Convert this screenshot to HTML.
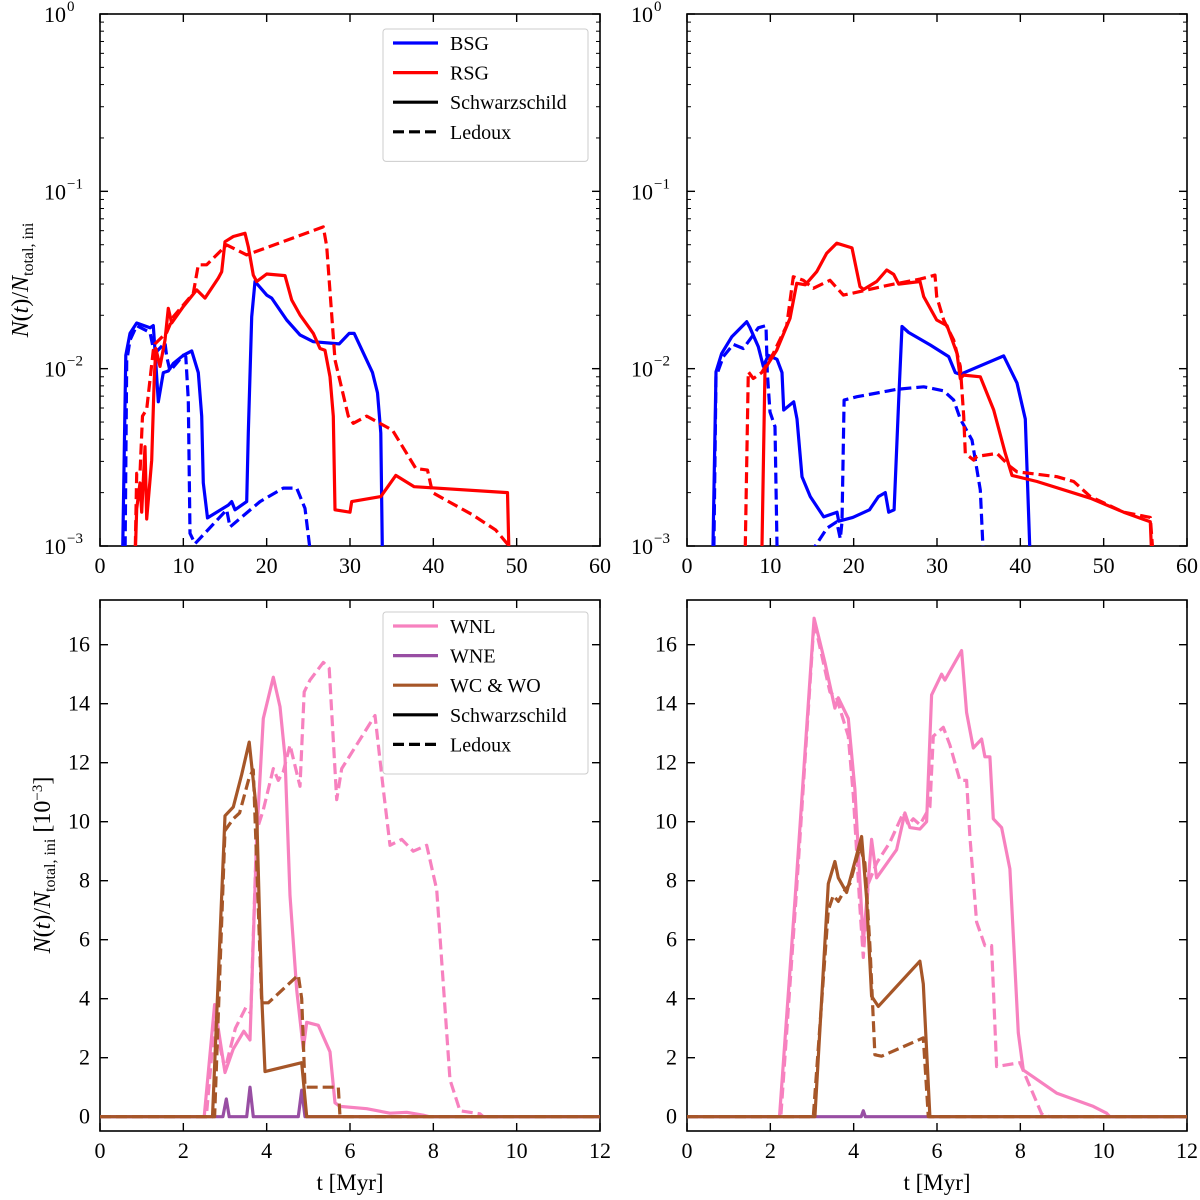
<!DOCTYPE html>
<html><head><meta charset="utf-8"><style>
html,body{margin:0;padding:0;background:#fff;}
svg{display:block;font-family:"Liberation Serif","DejaVu Serif",serif;}
</style></head><body>
<svg id="fig" width="1200" height="1200" viewBox="0 0 1200 1200" xmlns="http://www.w3.org/2000/svg"></svg>
<script>
// ===== Top-left (log) data =====
const tlBsgSolT=[2.7,3.1,3.6,4.4,6.0,6.4,6.6,7.0,7.6,8.2,8.8,10.0,11.0,11.8,12.2,12.4,12.9,15.4,15.8,16.2,17.6,17.8,18.2,18.6,20.0,20.6,22.4,24.0,25.6,28.7,29.9,30.5,32.7,33.3,33.7,33.9];
const tlBsgSolV=[0.0008,0.0119,0.0158,0.0181,0.017,0.0175,0.0127,0.0065,0.0095,0.0097,0.0107,0.0119,0.0126,0.0095,0.0054,0.00227,0.00144,0.0017,0.00178,0.0016,0.00178,0.00434,0.0196,0.031,0.026,0.025,0.0188,0.0155,0.0142,0.0138,0.0158,0.0158,0.0095,0.0073,0.00434,0.0008];
const tlBsgDashT=[3.0,3.2,3.6,4.4,6.0,6.4,6.8,7.8,8.0,8.4,10.0,10.3,10.6,10.8,11.4,15.2,15.6,19.2,22.0,23.6,24.6,25.4];
const tlBsgDashV=[0.0008,0.011,0.0145,0.0175,0.016,0.013,0.0125,0.014,0.0117,0.0097,0.0119,0.0117,0.00665,0.00118,0.00103,0.0016,0.00128,0.00178,0.00212,0.00212,0.00163,0.0008];
const tlRsgSolT=[4.2,4.4,4.8,5.0,5.4,5.6,6.2,6.5,6.7,7.2,7.8,8.2,8.6,10.0,11.6,12.6,14.2,14.6,15.0,16.0,17.4,17.8,18.4,18.8,20.0,22.2,23.0,24.0,25.6,26.4,27.0,27.6,28.0,28.2,30.0,30.2,33.7,35.5,37.7,48.9,49.1];
const tlRsgSolV=[0.0008,0.00162,0.00227,0.00155,0.00363,0.00142,0.00305,0.0086,0.013,0.0103,0.0145,0.0219,0.0181,0.0224,0.0278,0.025,0.0324,0.0352,0.052,0.0556,0.058,0.0487,0.0337,0.031,0.0342,0.0335,0.0244,0.0201,0.0158,0.013,0.0127,0.009,0.0054,0.0016,0.00155,0.00178,0.0019,0.0025,0.00216,0.002,0.0008];
const tlRsgDashT=[4.2,4.4,4.8,5.1,5.6,6.4,6.6,8.0,8.8,11.2,11.8,12.8,15.2,17.6,26.8,27.2,28.2,29.8,30.4,32.0,35.1,37.9,39.3,39.9,44.7,47.5,49.5];
const tlRsgDashV=[0.0008,0.00257,0.00257,0.0054,0.0059,0.0127,0.0138,0.016,0.0196,0.0266,0.0385,0.0385,0.0499,0.0438,0.063,0.049,0.0112,0.0054,0.00492,0.0054,0.0045,0.00274,0.00268,0.002,0.0015,0.00123,0.00095];
// ===== Top-right (log) data =====
const trBsgSolT=[3.08,3.48,4.16,5.36,7.16,7.56,8.56,9.16,9.76,10.8,11.4,11.6,12.8,13.2,13.8,14.8,16.4,18.0,18.2,19.9,21.9,22.97,23.8,24.2,24.85,25.4,25.8,26.6,29.2,31.4,32.2,32.8,38.0,39.6,40.6,41.2];
const trBsgSolV=[0.0008,0.0096,0.0122,0.0151,0.0184,0.017,0.0133,0.0103,0.0119,0.0113,0.0095,0.00585,0.0065,0.0052,0.00246,0.0019,0.00146,0.00155,0.00138,0.00145,0.0016,0.0019,0.002,0.00155,0.0016,0.00665,0.0173,0.016,0.0136,0.0117,0.0095,0.0093,0.0118,0.0083,0.0052,0.0008];
const trBsgDashT=[3.2,3.48,4.36,5.56,6.76,7.96,8.56,9.48,9.64,9.96,10.56,10.84];
const trBsgDashV=[0.0008,0.009,0.0117,0.0137,0.013,0.0155,0.017,0.0175,0.0095,0.0057,0.00471,0.0008];
const trBsgDash2T=[14.76,16.8,17.96,18.4,18.6,18.85,20.4,25.2,28.4,30.8,32.0,32.8,34.2,35.2,35.6];
const trBsgDash2V=[0.0009,0.00126,0.00137,0.0011,0.00137,0.00665,0.00695,0.00765,0.0079,0.0075,0.00665,0.0052,0.00396,0.00207,0.0008];
const trRsgSolT=[8.96,9.36,10.76,12.36,13.16,14.2,15.56,16.76,17.96,19.8,20.76,21.2,22.76,23.96,24.8,25.4,27.96,28.4,29.96,31.2,32.4,32.8,33.2,35.2,36.8,38.2,39.0,42.0,48.4,52.4,55.6,55.8];
const trRsgSolV=[0.0008,0.01,0.0127,0.0192,0.0303,0.0297,0.0352,0.0448,0.051,0.048,0.029,0.028,0.031,0.036,0.034,0.03,0.031,0.0255,0.0188,0.0175,0.0122,0.0088,0.0092,0.009,0.00585,0.00333,0.0025,0.00231,0.00186,0.00155,0.00137,0.0008];
const trRsgDashT=[6.96,7.36,7.96,8.96,10.36,11.96,12.76,13.96,15.16,17.16,18.76,20.4,24.4,27.96,29.76,29.96,30.8,32.0,32.8,33.2,33.4,34.4,34.8,37.2,38.8,39.6,44.4,46.4,48.4,52.4,55.6,56.0];
const trRsgDashV=[0.0008,0.0096,0.0088,0.0095,0.0122,0.0175,0.033,0.0315,0.0284,0.0315,0.026,0.027,0.0297,0.032,0.0337,0.0255,0.0188,0.0145,0.0103,0.0054,0.00333,0.00305,0.0032,0.00333,0.0028,0.00262,0.00246,0.00231,0.0019,0.00155,0.00145,0.0008];
// ===== Bottom-left (linear, 1e-3) data =====
const blWnlSolT=[0,2.5,2.75,3.0,3.2,3.45,3.6,3.76,3.92,4.16,4.32,4.44,4.56,4.72,4.88,4.96,5.24,5.52,5.64,5.76,6.4,6.96,7.36,7.76,7.9,12];
const blWnlSolV=[0,0,3.8,1.5,2.3,2.9,2.6,9.5,13.5,14.9,13.9,12.2,7.5,4.3,2.3,3.2,3.1,2.2,0.47,0.35,0.27,0.12,0.15,0.05,0,0];
const blWnlDashT=[0,2.55,2.75,3.0,3.25,3.5,3.62,3.76,3.92,4.16,4.28,4.4,4.56,4.8,4.9,5.04,5.36,5.5,5.68,5.8,6.6,6.8,6.96,7.24,7.52,7.84,8.08,8.4,8.64,9.12,9.2,12];
const blWnlDashV=[0,0,3.2,1.6,3.0,3.7,3.5,9.7,10.4,11.8,11.4,11.7,12.6,11.2,14.4,14.8,15.4,15.2,10.75,11.8,13.6,11.1,9.2,9.4,9.0,9.2,7.7,1.25,0.2,0.1,0,0];
const blWneSolT=[0,2.95,3.03,3.1,3.52,3.6,3.68,4.76,4.84,4.92,12];
const blWneSolV=[0,0,0.6,0,0,1.0,0,0,0.9,0,0];
const blWcSolT=[0,2.7,3.0,3.2,3.4,3.58,3.76,3.88,3.96,4.84,4.96,12];
const blWcSolV=[0,0,10.2,10.5,11.6,12.7,10.3,4.1,1.53,1.83,0,0];
const blWcDashT=[0,2.75,3.0,3.2,3.35,3.58,3.68,3.88,4.04,4.76,4.84,4.92,5.72,5.76,12];
const blWcDashV=[0,0,9.7,10.1,10.3,11.5,11.76,3.86,3.86,4.8,4.0,1.0,1.0,0,0];
// ===== Bottom-right (linear, 1e-3) data =====
const brWnlSolT=[0,2.22,2.6,3.05,3.31,3.55,3.63,3.87,4.03,4.23,4.43,4.55,5.03,5.23,5.35,5.59,5.75,5.87,6.11,6.19,6.59,6.71,6.87,7.07,7.15,7.27,7.35,7.55,7.75,7.95,8.07,8.31,8.87,9.75,10.07,10.15,12];
const brWnlSolV=[0,0,7.5,16.9,15.4,13.85,14.2,13.5,11.1,5.9,9.4,8.1,9.05,10.3,9.8,9.75,10.0,14.3,15.0,14.8,15.8,13.7,12.5,12.8,12.2,12.2,10.1,9.8,8.4,2.84,1.58,1.35,0.8,0.35,0.12,0,0];
const brWnlDashT=[0,2.25,2.62,3.05,3.43,3.59,3.87,3.99,4.15,4.23,4.35,4.55,4.87,5.19,5.31,5.43,5.59,5.83,5.91,6.15,6.31,6.55,6.71,6.79,6.95,7.15,7.31,7.43,7.99,8.23,8.51,8.7,12];
const brWnlDashV=[0,0,7.5,16.8,14.4,14.2,12.9,10.9,7.1,5.4,7.9,8.6,9.3,10.3,9.9,10.1,9.9,10.5,12.9,13.2,12.6,11.4,11.4,9.5,6.6,5.8,5.8,1.7,1.83,1.03,0.1,0,0];
const brWneSolT=[0,4.18,4.23,4.28,12];
const brWneSolV=[0,0,0.2,0,0];
const brWcSolT=[0,3.07,3.39,3.55,3.63,3.83,4.19,4.31,4.43,4.59,5.59,5.67,5.83,12];
const brWcSolV=[0,0,7.9,8.65,8.1,7.6,9.5,7.4,4.08,3.74,5.27,4.5,0,0];
const brWcDashT=[0,3.03,3.39,3.51,3.63,3.75,3.91,4.15,4.27,4.39,4.51,4.67,5.67,5.79,12];
const brWcDashV=[0,0,7.0,7.5,7.3,7.6,7.9,9.16,8.6,5.8,2.1,2.05,2.67,0,0];
// ===== Ticks =====
const topXTicks=[0,10,20,30,40,50,60];
const topYExps=[0,-1,-2,-3];
const botXTicks=[0,2,4,6,8,10,12];
const botYTicks=[0,2,4,6,8,10,12,14,16];

const NS="http://www.w3.org/2000/svg";
const svg=document.getElementById('fig');
function el(tag,attrs,parent){const e=document.createElementNS(NS,tag);for(const k in attrs)e.setAttribute(k,attrs[k]);(parent||svg).appendChild(e);return e;}

const C={blue:'#0000ff',red:'#ff0000',pink:'#f781bf',purple:'#984ea3',brown:'#a65628'};
const panels={
 tl:{x0:100,x1:600,y0:14,y1:546,xmax:60,log:true},
 tr:{x0:687,x1:1187,y0:14,y1:546,xmax:60,log:true},
 bl:{x0:100,x1:600,y0:600,y1:1131,xmax:12,log:false},
 br:{x0:687,x1:1187,y0:600,y1:1131,xmax:12,log:false}
};
function xs(p,t){return p.x0+t/p.xmax*(p.x1-p.x0);}
function ys(p,v){
 if(p.log){return p.y1-(Math.log10(Math.max(v,1e-4))+3)*(p.y1-p.y0)/3;}
 return 1116.7-v*29.5;
}
const defs=el('defs',{});
for(const k in panels){const p=panels[k];const cp=el('clipPath',{id:'clip-'+k},defs);el('rect',{x:p.x0,y:p.y0,width:p.x1-p.x0,height:p.y1-p.y0},cp);}

function series(pk,T,V,color,dashed,name){
 const p=panels[pk];
 let d='';
 for(let i=0;i<T.length;i++){d+=(i?'L':'M')+xs(p,T[i]).toFixed(1)+','+ys(p,V[i]).toFixed(1);}
 const path=el('path',{d:d,fill:'none',stroke:color,'stroke-width':3.2,'stroke-linejoin':'round','clip-path':'url(#clip-'+pk+')'});
 if(dashed)path.setAttribute('stroke-dasharray','11,5');
 
 
}

for(const k in panels){
 const p=panels[k];
 const fr=el('rect',{x:p.x0,y:p.y0,width:p.x1-p.x0,height:p.y1-p.y0,fill:'none',stroke:'#000','stroke-width':1.6});
 
 
 const xt=p.log?topXTicks:botXTicks;
 xt.forEach(t=>{
  const x=xs(p,t);
  el('line',{x1:x,x2:x,y1:p.y1,y2:p.y1-8,stroke:'#000','stroke-width':1.4});
  el('line',{x1:x,x2:x,y1:p.y0,y2:p.y0+8,stroke:'#000','stroke-width':1.4});
  const lb=el('text',{x:x,y:p.y1+27,'font-size':22,'text-anchor':'middle'});
  lb.textContent=t;
  
  
 });
 if(p.log){
  topYExps.forEach(e=>{
   const y=ys(p,Math.pow(10,e));
   el('line',{x1:p.x0,x2:p.x0+8,y1:y,y2:y,stroke:'#000','stroke-width':1.4});
   el('line',{x1:p.x1,x2:p.x1-8,y1:y,y2:y,stroke:'#000','stroke-width':1.4});
   if(e>-3){for(let m=2;m<10;m++){const ym=ys(p,m*Math.pow(10,e-1));
    el('line',{x1:p.x0,x2:p.x0+4,y1:ym,y2:ym,stroke:'#000','stroke-width':1});
    el('line',{x1:p.x1,x2:p.x1-4,y1:ym,y2:ym,stroke:'#000','stroke-width':1});}}
   const lb=el('text',{x:p.x0-34,y:y+8,'font-size':22,'text-anchor':'end'});
   lb.textContent='10';
   
   
   const sup=el('text',{x:p.x0-33,y:y-3,'font-size':15,'text-anchor':'start'});
   sup.textContent=e===0?'0':'\u2212'+(-e);
  });
 } else {
  botYTicks.forEach(v=>{
   const y=ys(p,v);
   el('line',{x1:p.x0,x2:p.x0+8,y1:y,y2:y,stroke:'#000','stroke-width':1.4});
   el('line',{x1:p.x1,x2:p.x1-8,y1:y,y2:y,stroke:'#000','stroke-width':1.4});
   const lb=el('text',{x:p.x0-10,y:y+7,'font-size':22,'text-anchor':'end'});
   lb.textContent=v;
   
   
  });
  const xl=el('text',{x:(p.x0+p.x1)/2,y:1190,'font-size':23,'text-anchor':'middle'});
  xl.textContent='t [Myr]';
  
  
 }
}

series('tl',tlBsgDashT,tlBsgDashV,C.blue,true,'bsg-ledoux-left');
series('tl',tlBsgSolT,tlBsgSolV,C.blue,false,'bsg-schwarzschild-left');
series('tl',tlRsgDashT,tlRsgDashV,C.red,true,'rsg-ledoux-left');
series('tl',tlRsgSolT,tlRsgSolV,C.red,false,'rsg-schwarzschild-left');
series('tr',trBsgDashT,trBsgDashV,C.blue,true,'bsg-ledoux-right');
series('tr',trBsgDash2T,trBsgDash2V,C.blue,true,'bsg-ledoux-right-2');
series('tr',trBsgSolT,trBsgSolV,C.blue,false,'bsg-schwarzschild-right');
series('tr',trRsgDashT,trRsgDashV,C.red,true,'rsg-ledoux-right');
series('tr',trRsgSolT,trRsgSolV,C.red,false,'rsg-schwarzschild-right');
series('bl',blWnlDashT,blWnlDashV,C.pink,true,'wnl-ledoux-left');
series('bl',blWnlSolT,blWnlSolV,C.pink,false,'wnl-schwarzschild-left');
series('bl',blWneSolT,blWneSolV,C.purple,false,'wne-schwarzschild-left');
series('bl',blWcDashT,blWcDashV,C.brown,true,'wc-wo-ledoux-left');
series('bl',blWcSolT,blWcSolV,C.brown,false,'wc-wo-schwarzschild-left');
series('br',brWnlDashT,brWnlDashV,C.pink,true,'wnl-ledoux-right');
series('br',brWnlSolT,brWnlSolV,C.pink,false,'wnl-schwarzschild-right');
series('br',brWneSolT,brWneSolV,C.purple,false,'wne-schwarzschild-right');
series('br',brWcDashT,brWcDashV,C.brown,true,'wc-wo-ledoux-right');
series('br',brWcSolT,brWcSolV,C.brown,false,'wc-wo-schwarzschild-right');

function legend(x,y,w,entries,name){
 const g=el('g',{});
 
 
 el('rect',{x:x,y:y,width:w,height:entries.length*29.6+14,rx:3,fill:'#fff',stroke:'#cccccc','stroke-width':1},g);
 entries.forEach((e,i)=>{
  const yy=y+14+i*29.6;
  const ln=el('line',{x1:x+10,x2:x+55,y1:yy,y2:yy,stroke:e[1],'stroke-width':3.2},g);
  if(e[2])ln.setAttribute('stroke-dasharray','11,5');
  const t=el('text',{x:x+67,y:yy+7,'font-size':20},g);
  t.textContent=e[0];
  
  
 });
}
legend(383,29,205,[['BSG',C.blue,false],['RSG',C.red,false],['Schwarzschild','#000',false],['Ledoux','#000',true]],'legend-top');
legend(383,612,205,[['WNL',C.pink,false],['WNE',C.purple,false],['WC & WO',C.brown,false],['Schwarzschild','#000',false],['Ledoux','#000',true]],'legend-bottom');

const yt1=el('text',{transform:'translate(28,280) rotate(-90)','font-size':24,'text-anchor':'middle'});
yt1.innerHTML='<tspan font-style="italic">N</tspan>(<tspan font-style="italic">t</tspan>)/<tspan font-style="italic">N</tspan><tspan font-size="16" dy="5">total, ini</tspan>';


const yt2=el('text',{transform:'translate(50,865) rotate(-90)','font-size':24,'text-anchor':'middle'});
yt2.innerHTML='<tspan font-style="italic">N</tspan>(<tspan font-style="italic">t</tspan>)/<tspan font-style="italic">N</tspan><tspan font-size="16" dy="5">total, ini</tspan><tspan dy="-5"> [10</tspan><tspan font-size="15" dy="-8">\u22123</tspan><tspan dy="8">]</tspan>';


</script>
</body></html>
